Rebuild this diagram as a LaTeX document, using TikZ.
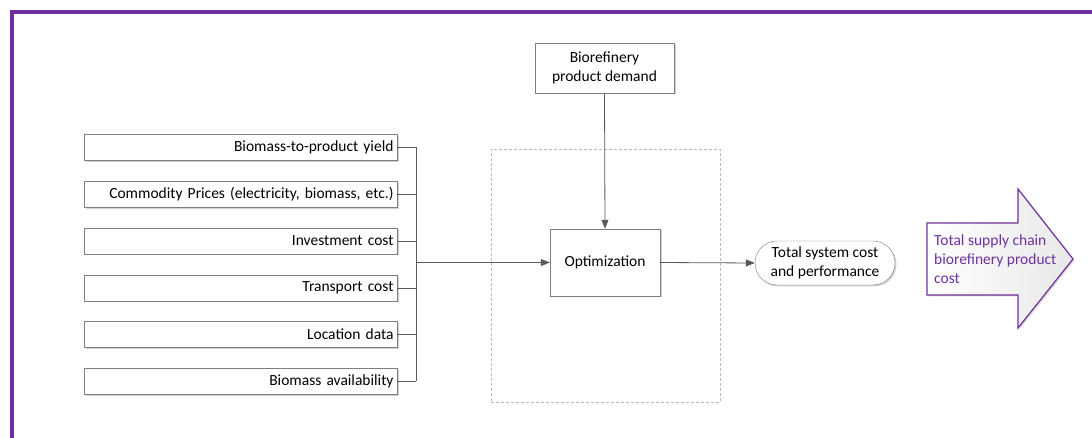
\documentclass[tikz,border=0pt]{standalone}
\usepackage{fontspec}
\setmainfont{Carlito}
\usetikzlibrary{arrows.meta,shadows}
\definecolor{framepurple}{HTML}{7030A0}
\definecolor{edgegray}{HTML}{595959}
\definecolor{boxgray}{HTML}{7F7F7F}
\tikzset{
  txt/.style={font=\fontsize{15.5}{19}\selectfont},
  softshadow/.style={drop shadow={shadow xshift=1.5pt,shadow yshift=-1.5pt,opacity=0.18,fill=black}},
  inbox/.style={txt,draw=boxgray,fill=white,softshadow,minimum width=313pt,minimum height=26pt,
    text width=306pt,inner sep=0pt,align=right},
  procbox/.style={txt,draw=boxgray,fill=white,softshadow,inner sep=0pt,align=center},
  conn/.style={draw=edgegray,line width=0.8pt},
  arr/.style={conn,-{Triangle[length=9pt,width=7pt]}},
}
\begin{document}
\begin{tikzpicture}[x=1pt,y=-1pt]
\useasboundingbox (0,0) rectangle (1092,438);
\fill[white] (0,0) rectangle (1092,438);
% purple frame
\draw[framepurple,line width=4pt] (12,445) -- (12,12) -- (1100,12);

% dashed grouping rectangle
\node[draw=gray!55,dashed,dash pattern=on 3pt off 2pt,line width=0.8pt,minimum width=229pt,minimum height=253pt,inner sep=0pt] (group) at (605.5,275.5) {};

% input boxes
\node[inbox] (in1) at (240.5,147.5) {Biomass-to-product yield};
\node[inbox] (in2) at (240.5,194.5) {Commodity Prices (electricity, biomass, etc.)};
\node[inbox] (in3) at (240.5,241) {Investment cost};
\node[inbox] (in4) at (240.5,288) {Transport cost};
\node[inbox] (in5) at (240.5,334.5) {Location data};
\node[inbox] (in6) at (240.5,381) {Biomass availability};

% demand and optimization
\node[procbox,minimum width=139pt,minimum height=50pt] (demand) at (604.5,68) {Biorefinery\\product demand};
\node[procbox,minimum width=110pt,minimum height=67pt] (opt) at (605,262.5) {Optimization};

% terminal
\node[txt,draw=boxgray,fill=white,softshadow,rounded corners=22pt,minimum width=140pt,minimum height=44pt,inner sep=0pt,align=center] (term) at (825,263) {Total system cost\\and performance};

% bus
\coordinate (busx) at (416,0);
\foreach \i in {1,...,6}{\draw[conn] (in\i.east) -- (in\i.east -| busx);}
\draw[conn] (in1.east -| busx) -- (in6.east -| busx);
\draw[arr] (opt.west -| busx) -- (opt.west);
\draw[arr] (demand.south) -- (opt.north);
\draw[arr] (opt.east) -- (term.west);

% big arrow
\path[draw=framepurple,line width=1.2pt,left color=white,right color=gray!18,
  drop shadow={shadow xshift=1.5pt,shadow yshift=-1.5pt,opacity=0.15,fill=black}]
  (927,223) -- (1018,223) -- (1018,189) -- (1073,259) -- (1018,328) -- (1018,295) -- (927,295) -- cycle;
\node[txt,text=framepurple,anchor=west,align=left,inner sep=0pt] (bigtext) at (934,259)
  {Total supply chain\\biorefinery product\\cost};
\end{tikzpicture}
\end{document}
